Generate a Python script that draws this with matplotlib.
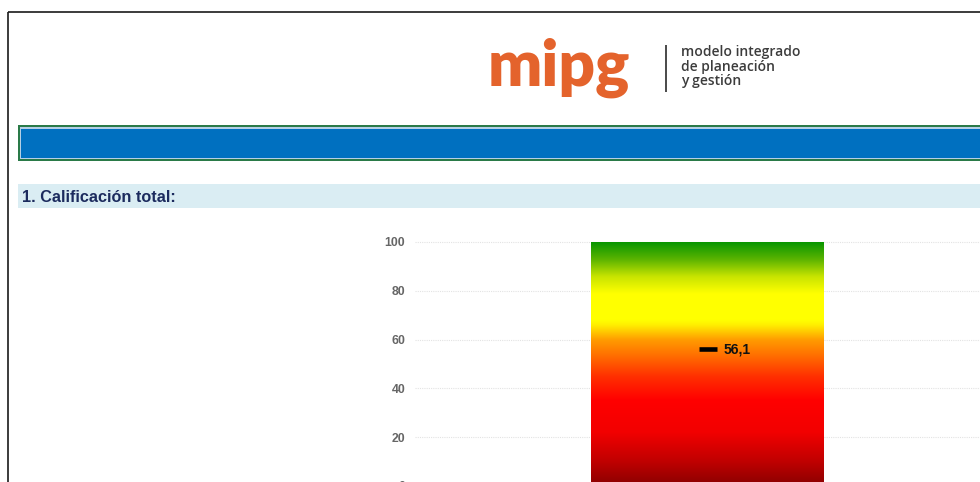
import numpy as np
import matplotlib
matplotlib.use("Agg")
import matplotlib.pyplot as plt
from matplotlib.patches import Rectangle
from matplotlib.colors import LinearSegmentedColormap

# ---- data ----
categories = ["Calificación total"]
scale_max = [100]
score = [56.1]
score_labels = ["56,1"]
y_ticks = [0, 20, 40, 60, 80, 100]
section_title = "1. Calificación total:"
logo_word = "mipg"
logo_lines = ["modelo integrado", "de planeación", "y gestión"]

W, H = 980, 482
fig = plt.figure(figsize=(W / 100, H / 100), dpi=100)
fig.patch.set_facecolor("white")

# background "page" axes in pixel coordinates
bg = fig.add_axes([0, 0, 1, 1], zorder=0)
bg.set_xlim(0, W)
bg.set_ylim(H, 0)
bg.axis("off")

# outer border
bg.plot([8, 8], [12, H + 5], color="#1a1a1a", lw=1.2, solid_capstyle="butt")
bg.plot([8, W + 5], [12, 12], color="#1a1a1a", lw=1.2, solid_capstyle="butt")

# logo
bg.text(488, 86, logo_word, fontsize=46, fontweight="heavy", family="Lato",
        color="#e4632c", ha="left", va="baseline")
bg.plot([665.5, 665.5], [45, 92], color="#4a4a4a", lw=1.4, solid_capstyle="butt")
for i, line in enumerate(logo_lines):
    bg.text(681, 55.7 + i * 14.9, line, fontsize=10, fontweight="semibold",
            family="Open Sans", color="#3c3c3c", ha="left", va="baseline")

# blue banner
bg.add_patch(Rectangle((18, 125), 1100, 36, fc="#2a7a48", ec="none"))
bg.add_patch(Rectangle((20, 127), 1100, 32, fc="#b4cfe6", ec="none"))
bg.add_patch(Rectangle((21, 128.5), 1100, 29, fc="#0070c0", ec="none"))

# section header
bg.add_patch(Rectangle((18, 184), 1100, 24, fc="#daedf3", ec="none"))
bg.text(22, 197, section_title, fontsize=11.7, fontweight="bold",
        family="Liberation Sans", color="#1c2b5e", ha="left", va="center")

# ---- chart axes ----
px_per_unit = (437 - 242) / 80.0
ytop = 105
ax_left, ax_right = 415, 1000
ax_top = 242 - (ytop - 100) * px_per_unit
ax_bottom = 242 + 100 * px_per_unit
ax = fig.add_axes([ax_left / W, (H - ax_bottom) / H,
                   (ax_right - ax_left) / W, (ax_bottom - ax_top) / H], zorder=1)
ax.set_facecolor("none")
ax.set_xlim(-0.5, 0.5)
ax.set_ylim(0, ytop)
for s in ax.spines.values():
    s.set_visible(False)
ax.set_xticks([])
ax.set_yticks(y_ticks)
ax.set_yticklabels([str(t) for t in y_ticks])
ax.tick_params(axis="y", length=0, pad=7, labelsize=8.8, labelcolor="#666666")
for lab in ax.get_yticklabels():
    lab.set_fontweight("bold")
    lab.set_family("Liberation Sans")
ax.yaxis.grid(True, color="#e3e3e3", lw=0.8, linestyle=(0, (1, 1)))
ax.set_axisbelow(True)

x = np.arange(len(categories))
bar_w = 233 / (ax_right - ax_left)
bars = ax.bar(x, scale_max, width=bar_w, color="none", edgecolor="none", zorder=2)

cmap = LinearSegmentedColormap.from_list("grad", [
    (0.00, "#8a0000"), (0.10, "#c00000"), (0.22, "#f20000"), (0.35, "#ff0000"),
    (0.45, "#ff3000"), (0.52, "#ff6400"), (0.60, "#ff9c00"), (0.66, "#ffee00"),
    (0.68, "#ffff00"), (0.79, "#ffff00"), (0.86, "#c8e400"), (0.93, "#5cb400"),
    (1.00, "#0a9600")])
grad = np.linspace(0, 1, 512).reshape(-1, 1)
for b in bars:
    bx, by = b.get_x(), b.get_y()
    bw, bh = b.get_width(), b.get_height()
    im = ax.imshow(grad, cmap=cmap, origin="lower", aspect="auto",
                   extent=[bx, bx + bw, by, by + bh], zorder=2, interpolation="bilinear")
    im.set_clip_path(b)
ax.set_xlim(-0.5, 0.5)
ax.set_ylim(0, ytop)

ax.scatter(x, score, marker="_", s=150, linewidths=3.3, color="black", zorder=4)
for xi, v, lab in zip(x, score, score_labels):
    ax.annotate(lab, (xi, v), xytext=(11.5, 0), textcoords="offset points",
                ha="left", va="center", fontsize=10, fontweight="bold",
                family="Liberation Sans", color="#111111", zorder=5)

fig.savefig("out.png", dpi=100)
